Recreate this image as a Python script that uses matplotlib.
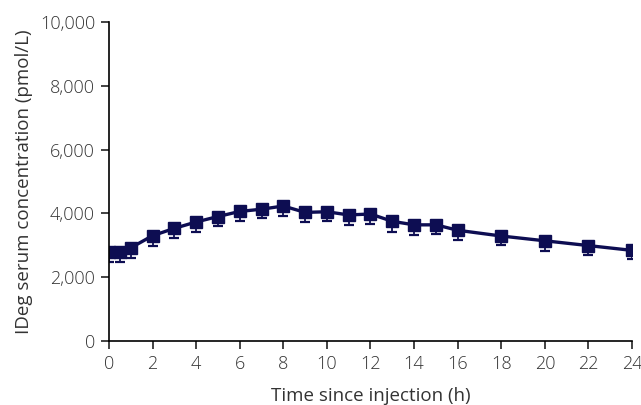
import numpy as np
from matplotlib import pyplot as plt
from matplotlib.ticker import FuncFormatter

# IDeg serum concentration over time
time_h = [0, 0.5, 1, 2, 3, 4, 5, 6, 7, 8, 9, 10, 11, 12, 13, 14, 15, 16, 18, 20, 22, 24]
conc = [2800, 2800, 2920, 3300, 3530, 3730, 3900, 4060, 4130, 4230, 4030, 4050,
        3950, 3980, 3750, 3640, 3640, 3470, 3290, 3140, 2990, 2840]
err_low = [320, 320, 320, 320, 310, 300, 290, 290, 290, 320, 300, 300,
           300, 310, 330, 330, 300, 310, 270, 330, 290, 280]

color = '#0d0d52'
plt.rcParams['font.family'] = ['Open Sans', 'DejaVu Sans']
plt.rcParams['font.weight'] = 'light'

fig = plt.figure(figsize=(6.41, 4.05), dpi=100)
ax = fig.add_axes([0.170, 0.158, 0.816, 0.788])

ax.errorbar(time_h, conc, yerr=[err_low, [0] * len(err_low)], color=color,
            lw=2.4, marker='s', markersize=9, capsize=3.5, elinewidth=1.3,
            capthick=1.6, ecolor=color)

ax.set_xlim(0, 24)
ax.set_ylim(0, 10000)
ax.set_xticks(np.arange(0, 25, 2))
ax.set_yticks(np.arange(0, 10001, 2000))
ax.yaxis.set_major_formatter(FuncFormatter(lambda v, p: f'{int(v):,}'))
for s in ['top', 'right']:
    ax.spines[s].set_visible(False)
for s in ['left', 'bottom']:
    ax.spines[s].set_linewidth(1.2)
ax.tick_params(direction='out', length=6, width=1.2, labelsize=13, colors='#222222',
               labelcolor='#333333', pad=4)
ax.set_xlabel('Time since injection (h)', fontsize=13.5, color='#333333', labelpad=10)
ax.set_ylabel('IDeg serum concentration (pmol/L)', fontsize=13.5, color='#333333', labelpad=5)
for sp in ax.spines.values():
    sp.set_clip_on(False)

fig.savefig('out.png', dpi=100)
